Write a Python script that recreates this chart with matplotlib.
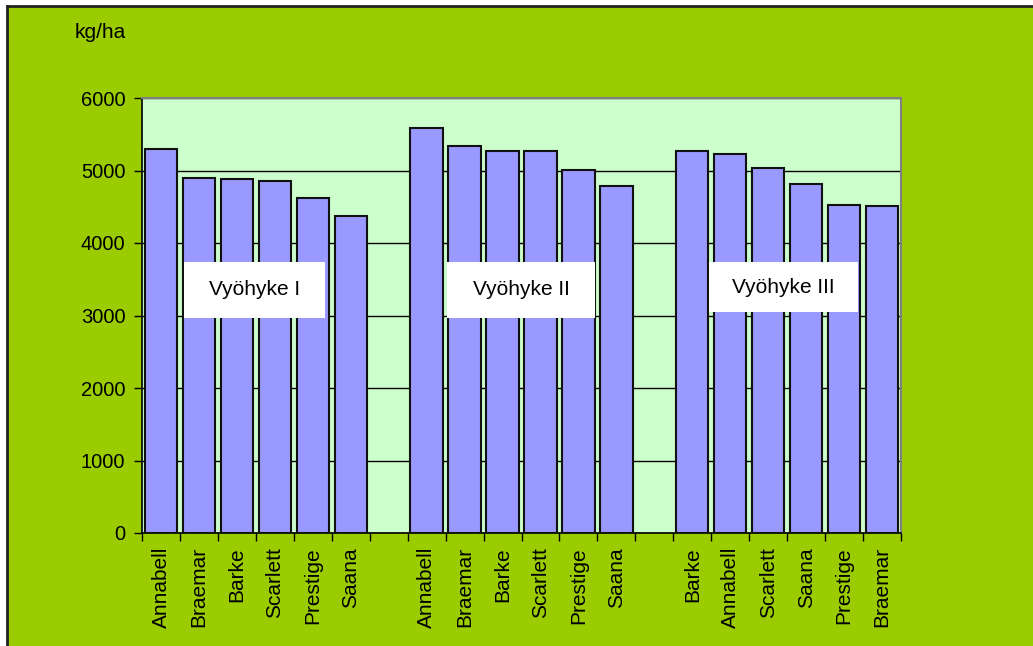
import matplotlib.pyplot as plt
from matplotlib.patches import Rectangle
import numpy as np

plt.rcParams['font.family'] = ['Liberation Sans', 'DejaVu Sans']

# yields per zone, kg/ha
zone1_names = ["Annabell", "Braemar", "Barke", "Scarlett", "Prestige", "Saana"]
zone1_vals = [5300, 4900, 4880, 4860, 4615, 4375]
zone2_names = ["Annabell", "Braemar", "Barke", "Scarlett", "Prestige", "Saana"]
zone2_vals = [5580, 5340, 5275, 5275, 5010, 4790]
zone3_names = ["Barke", "Annabell", "Scarlett", "Saana", "Prestige", "Braemar"]
zone3_vals = [5275, 5230, 5030, 4815, 4530, 4505]
zone_labels = ["Vyöhyke I", "Vyöhyke II", "Vyöhyke III"]
yticks = [0, 1000, 2000, 3000, 4000, 5000, 6000]

# one empty slot between the zones
names = zone1_names + [""] + zone2_names + [""] + zone3_names
vals = zone1_vals + [np.nan] + zone2_vals + [np.nan] + zone3_vals
x = np.arange(len(names))

fig = plt.figure(figsize=(10.33, 6.46), dpi=100)
fig.patch.set_facecolor("white")

# green chart area with black frame on left/top
fig.patches.append(Rectangle((7 / 1033, 0), 1, 1 - 6 / 646, transform=fig.transFigure,
                             facecolor="#9ACC00", edgecolor="none", zorder=-10))
fig.add_artist(plt.Line2D([7 / 1033, 7 / 1033], [0, 1 - 6 / 646], color="#222222",
                          lw=2, transform=fig.transFigure))
fig.add_artist(plt.Line2D([7 / 1033, 1], [1 - 6 / 646, 1 - 6 / 646], color="#222222",
                          lw=2, transform=fig.transFigure))

ax = fig.add_axes([142 / 1033, 1 - 533 / 646, 759 / 1033, 435 / 646])
ax.set_facecolor("#CCFFCC")

ax.bar(x, vals, width=0.85, color="#9999FF", edgecolor="#111111", linewidth=1.5, zorder=3)

ax.set_xlim(-0.5, len(names) - 0.5)
ax.set_ylim(0, 6000)
ax.set_yticks(yticks)
ax.yaxis.grid(True, color="black", linewidth=1, zorder=0)
ax.set_axisbelow(True)

ax.set_xticks(x)
ax.set_xticklabels(names, rotation=90, fontsize=15)
ax.set_xticks(np.arange(len(names) + 1) - 0.5, minor=True)
ax.tick_params(axis="x", which="major", length=0, pad=10)
ax.tick_params(axis="x", which="minor", length=6, width=1, direction="out")
ax.tick_params(axis="y", length=6, width=1, labelsize=14.5, pad=6)

for side in ["top", "right"]:
    ax.spines[side].set_color("#808080")
    ax.spines[side].set_linewidth(1.5)
for side in ["left", "bottom"]:
    ax.spines[side].set_color("black")
    ax.spines[side].set_linewidth(1.2)

# zone label boxes (axes fraction)
boxes = [(0.0553, 0.4943, 0.1858, 0.1287),
         (0.4018, 0.4943, 0.1950, 0.1287),
         (0.7470, 0.5080, 0.1963, 0.1150)]
for (bx, by, bw, bh), lab in zip(boxes, zone_labels):
    ax.add_patch(Rectangle((bx, by), bw, bh, transform=ax.transAxes,
                           facecolor="white", edgecolor="none", zorder=5))
    ax.text(bx + bw / 2, by + bh / 2, lab, transform=ax.transAxes, ha="center",
            va="center", fontsize=15, zorder=6)

fig.text(75 / 1033, 1 - 33 / 646, "kg/ha", fontsize=15, ha="left", va="center")

fig.savefig("out.png", dpi=100, facecolor=fig.get_facecolor())
